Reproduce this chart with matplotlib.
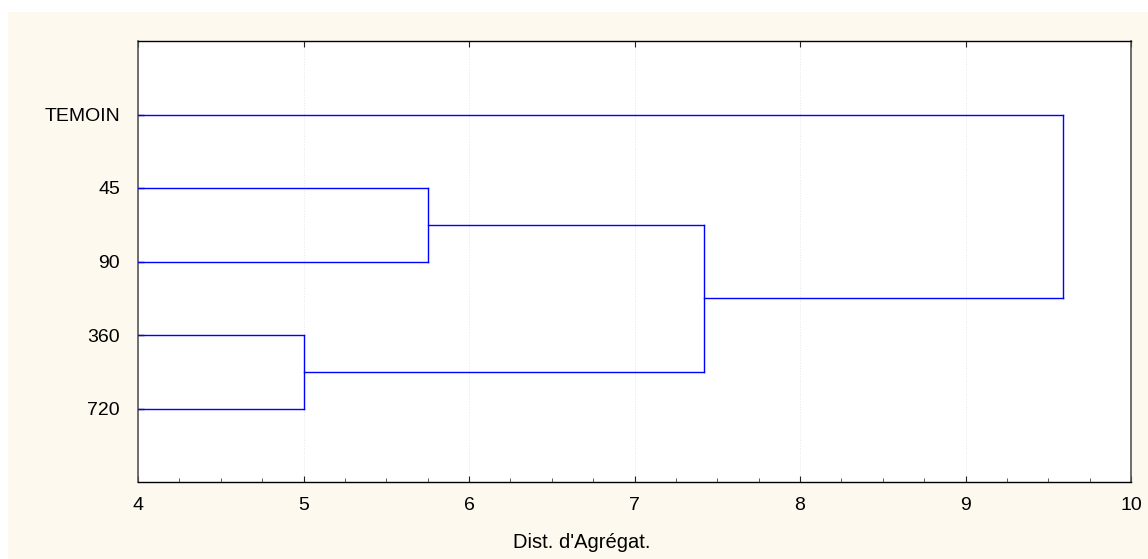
import numpy as np
import matplotlib
matplotlib.use('Agg')
import matplotlib.pyplot as plt
from matplotlib.patches import Rectangle
from matplotlib.ticker import MultipleLocator

plt.rcParams['font.family'] = ['Liberation Sans', 'DejaVu Sans']

# feuilles, de haut en bas
labels = ['TEMOIN', '45', '90', '360', '720']
# fusions : (noeud a, noeud b, distance d'agrégation)
merge_a = [3, 1, 5, 0]
merge_b = [4, 2, 6, 7]
merge_h = [5.0, 5.75, 7.42, 9.59]

W, H = 1148, 559
fig = plt.figure(figsize=(W / 100, H / 100), dpi=100)
fig.patch.set_facecolor('white')
# fond crème
fig.patches.append(Rectangle((8 / W, 0), 1 - 8 / W, 1 - 12 / H,
                             transform=fig.transFigure, facecolor='#fef9ee',
                             edgecolor='none', zorder=-5))

ax = fig.add_axes([138 / W, 1 - 482 / H, (1131 - 138) / W, (482 - 41) / H])
ax.set_facecolor('white')

# positions des noeuds
node_y = list(np.arange(1, len(labels) + 1, dtype=float))
node_x = [0.0] * len(labels)
for a, b, h in zip(merge_a, merge_b, merge_h):
    ax.plot([node_x[a], h], [node_y[a], node_y[a]], color='#0000ff', lw=1.0, zorder=3)
    ax.plot([node_x[b], h], [node_y[b], node_y[b]], color='#0000ff', lw=1.0, zorder=3)
    ax.plot([h, h], [node_y[a], node_y[b]], color='#0000ff', lw=1.0, zorder=3)
    node_y.append((node_y[a] + node_y[b]) / 2)
    node_x.append(h)

ax.set_xlim(4, 10)
ax.set_ylim(len(labels) + 1, 0)
ax.set_yticks(np.arange(1, len(labels) + 1))
ax.set_yticklabels(labels)
ax.xaxis.set_major_locator(MultipleLocator(1))
ax.xaxis.set_minor_locator(MultipleLocator(0.25))

ax.tick_params(axis='x', which='major', direction='in', length=4, width=0.8,
               top=True, labelsize=14, pad=11, colors='#222222')
ax.tick_params(axis='x', which='minor', direction='in', length=3, width=0.6,
               top=False, colors='#444444')
ax.tick_params(axis='y', direction='in', length=4, width=1.0,
               labelsize=14, pad=13, colors='#222222')
for lab in ax.get_xticklabels() + ax.get_yticklabels():
    lab.set_color('black')

ax.grid(axis='x', which='major', linestyle=':', color='#e6e6e6', lw=0.7)

for side in ['top', 'bottom']:
    ax.spines[side].set_color('black')
    ax.spines[side].set_linewidth(1.0)
for side in ['left', 'right']:
    ax.spines[side].set_color('#555555')
    ax.spines[side].set_linewidth(1.2)

fig.text(582 / W, 1 - 543 / H, "Dist. d'Agrégat.", ha='center', va='center',
         fontsize=14.5)

fig.savefig('out.png', dpi=100, facecolor=fig.get_facecolor())
